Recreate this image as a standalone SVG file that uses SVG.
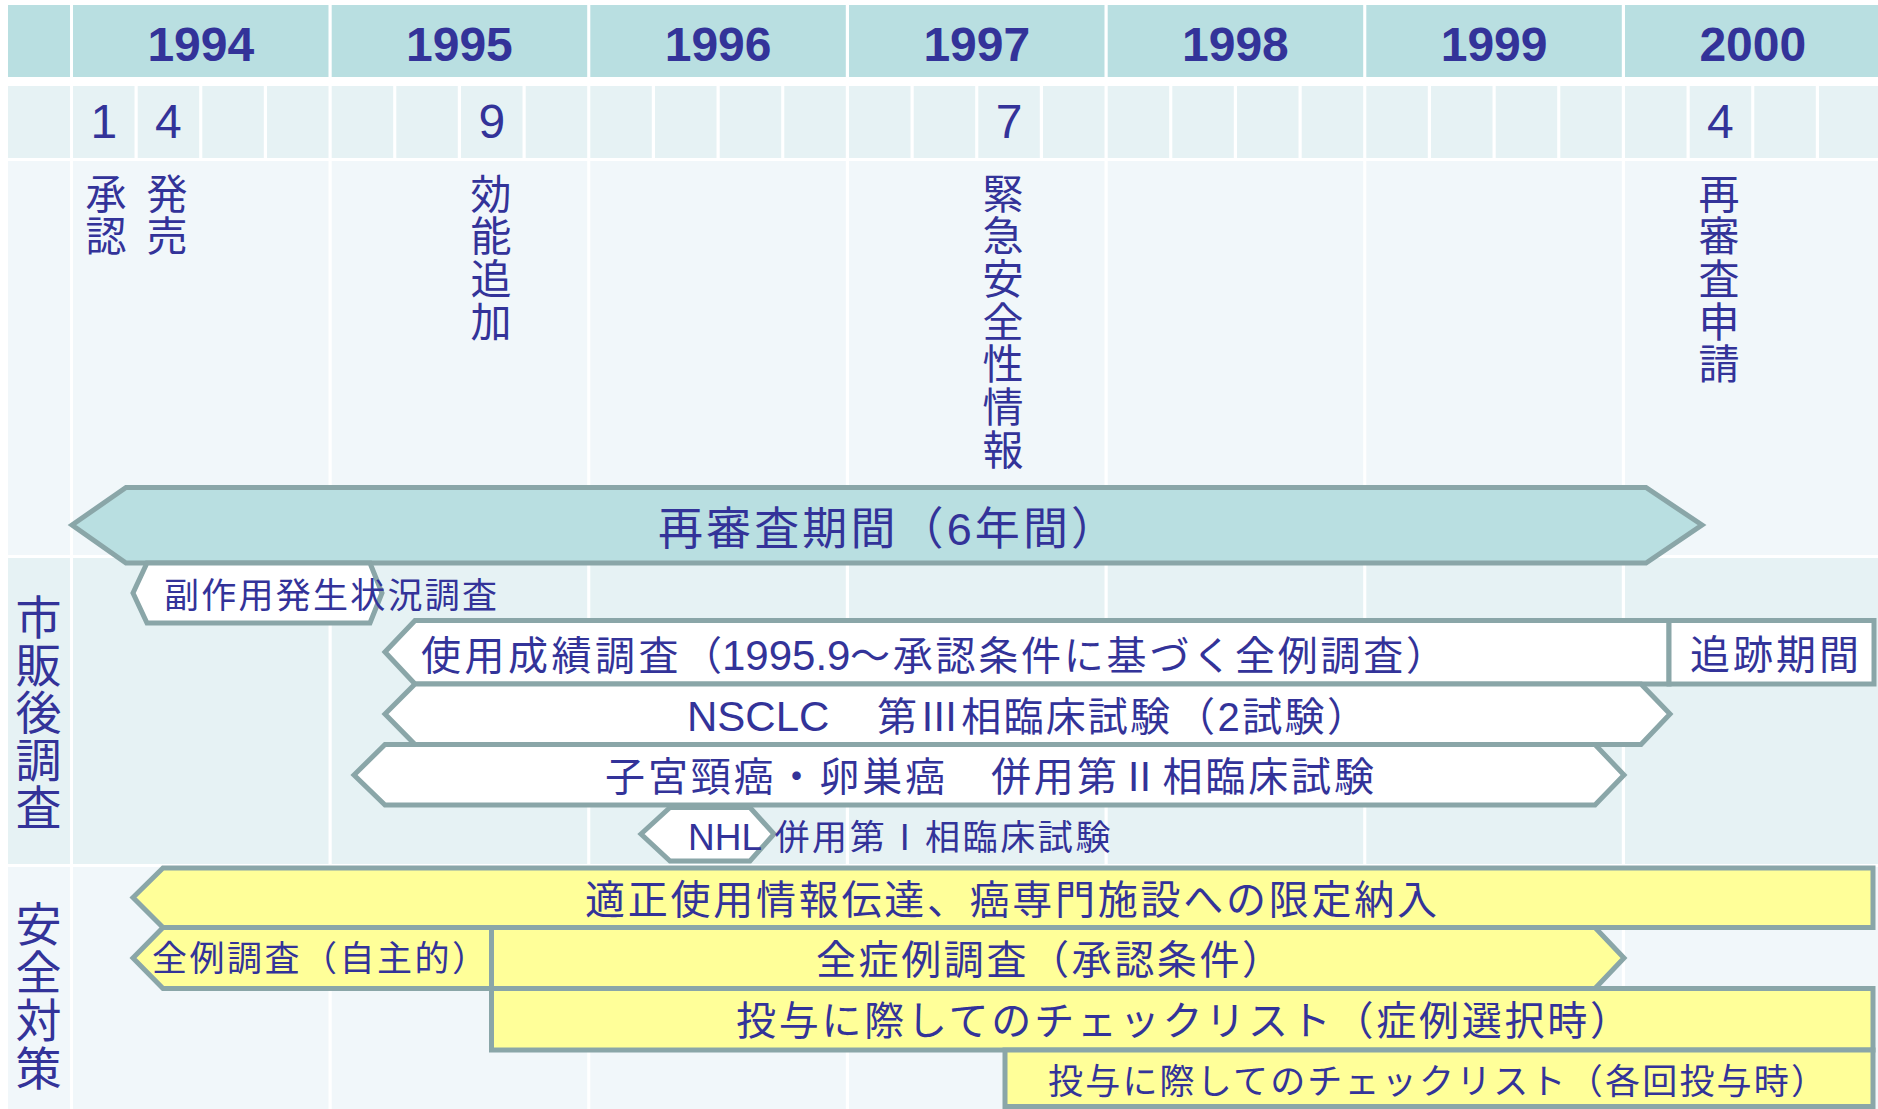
<svg xmlns="http://www.w3.org/2000/svg" width="1878" height="1109" viewBox="0 0 1878 1109">
<style>
text{font-family:"Liberation Sans","Noto Sans CJK JP",sans-serif;fill:#333399}
.yr{font-size:48px;font-weight:bold;text-anchor:middle}
.mo{font-size:48px;text-anchor:middle}
.ev{font-size:41px;text-anchor:middle}
.sec{font-size:46px;text-anchor:middle}
.lg{font-size:40px}
.sm{font-size:35px}
.la{font-size:42px}
.ls{font-size:37px}
.hd{fill:#B9DFE1}
.r2{fill:#E6F2F4}
.r3{fill:#F1F7FA}
.bar{stroke:#8AA6A8;stroke-width:5;stroke-linejoin:miter}
.w{fill:#FFFFFF}
.yl{fill:#FFFF99}
.tl{fill:#B9DFE1}
</style>
<rect x="0" y="0" width="1878" height="1109" fill="#FFFFFF"/>
<g id="grid">
<g id="row-year">
<rect class="hd" x="8" y="5" width="62" height="72"/>
<rect class="hd" x="73" y="5" width="255.5" height="72"/>
<rect class="hd" x="331.7" y="5" width="255.5" height="72"/>
<rect class="hd" x="590.3" y="5" width="255.5" height="72"/>
<rect class="hd" x="849" y="5" width="255.5" height="72"/>
<rect class="hd" x="1107.7" y="5" width="255.5" height="72"/>
<rect class="hd" x="1366.3" y="5" width="255.5" height="72"/>
<rect class="hd" x="1625" y="5" width="255.5" height="72"/>
</g>
<g id="row-month">
<rect class="r2" x="8" y="86" width="62" height="72"/>
<rect class="r2" x="73" y="86" width="61.5" height="72"/>
<rect class="r2" x="137.7" y="86" width="61.5" height="72"/>
<rect class="r2" x="202.3" y="86" width="61.5" height="72"/>
<rect class="r2" x="267" y="86" width="61.5" height="72"/>
<rect class="r2" x="331.7" y="86" width="61.5" height="72"/>
<rect class="r2" x="396.3" y="86" width="61.5" height="72"/>
<rect class="r2" x="461" y="86" width="61.5" height="72"/>
<rect class="r2" x="525.7" y="86" width="61.5" height="72"/>
<rect class="r2" x="590.3" y="86" width="61.5" height="72"/>
<rect class="r2" x="655" y="86" width="61.5" height="72"/>
<rect class="r2" x="719.7" y="86" width="61.5" height="72"/>
<rect class="r2" x="784.3" y="86" width="61.5" height="72"/>
<rect class="r2" x="849" y="86" width="61.5" height="72"/>
<rect class="r2" x="913.7" y="86" width="61.5" height="72"/>
<rect class="r2" x="978.3" y="86" width="61.5" height="72"/>
<rect class="r2" x="1043" y="86" width="61.5" height="72"/>
<rect class="r2" x="1107.7" y="86" width="61.5" height="72"/>
<rect class="r2" x="1172.3" y="86" width="61.5" height="72"/>
<rect class="r2" x="1237" y="86" width="61.5" height="72"/>
<rect class="r2" x="1301.7" y="86" width="61.5" height="72"/>
<rect class="r2" x="1366.3" y="86" width="61.5" height="72"/>
<rect class="r2" x="1431" y="86" width="61.5" height="72"/>
<rect class="r2" x="1495.7" y="86" width="61.5" height="72"/>
<rect class="r2" x="1560.3" y="86" width="61.5" height="72"/>
<rect class="r2" x="1625" y="86" width="61.5" height="72"/>
<rect class="r2" x="1689.7" y="86" width="61.5" height="72"/>
<rect class="r2" x="1754.3" y="86" width="61.5" height="72"/>
<rect class="r2" x="1819" y="86" width="61.5" height="72"/>
</g>
<g id="row-events">
<rect class="r3" x="8" y="161" width="62" height="394"/>
<rect class="r3" x="73" y="161" width="255.5" height="394"/>
<rect class="r3" x="331.7" y="161" width="255.5" height="394"/>
<rect class="r3" x="590.3" y="161" width="255.5" height="394"/>
<rect class="r3" x="849" y="161" width="255.5" height="394"/>
<rect class="r3" x="1107.7" y="161" width="255.5" height="394"/>
<rect class="r3" x="1366.3" y="161" width="255.5" height="394"/>
<rect class="r3" x="1625" y="161" width="255.5" height="394"/>
</g>
<g id="row-pms">
<rect class="r2" x="8" y="558" width="62" height="306"/>
<rect class="r2" x="73" y="558" width="255.5" height="306"/>
<rect class="r2" x="331.7" y="558" width="255.5" height="306"/>
<rect class="r2" x="590.3" y="558" width="255.5" height="306"/>
<rect class="r2" x="849" y="558" width="255.5" height="306"/>
<rect class="r2" x="1107.7" y="558" width="255.5" height="306"/>
<rect class="r2" x="1366.3" y="558" width="255.5" height="306"/>
<rect class="r2" x="1625" y="558" width="255.5" height="306"/>
</g>
<g id="row-safety">
<rect class="r3" x="8" y="867" width="62" height="242"/>
<rect class="r3" x="73" y="867" width="255.5" height="242"/>
<rect class="r3" x="331.7" y="867" width="255.5" height="242"/>
<rect class="r3" x="590.3" y="867" width="255.5" height="242"/>
<rect class="r3" x="849" y="867" width="255.5" height="242"/>
<rect class="r3" x="1107.7" y="867" width="255.5" height="242"/>
<rect class="r3" x="1366.3" y="867" width="255.5" height="242"/>
<rect class="r3" x="1625" y="867" width="255.5" height="242"/>
</g>
</g>
<g id="years">
<text class="yr" x="200.8" y="61">1994</text>
<text class="yr" x="459.4" y="61">1995</text>
<text class="yr" x="718.1" y="61">1996</text>
<text class="yr" x="976.8" y="61">1997</text>
<text class="yr" x="1235.4" y="61">1998</text>
<text class="yr" x="1494.1" y="61">1999</text>
<text class="yr" x="1752.8" y="61">2000</text>
</g>
<g id="months">
<text class="mo" x="103.8" y="138">1</text>
<text class="mo" x="168.4" y="138">4</text>
<text class="mo" x="491.8" y="138">9</text>
<text class="mo" x="1009" y="138">7</text>
<text class="mo" x="1720.4" y="138">4</text>
</g>
<g id="event-approval"><text class="ev"><tspan x="106" y="208.5">承</tspan><tspan x="106" dy="42.7">認</tspan></text></g>
<g id="event-launch"><text class="ev"><tspan x="167" y="208.5">発</tspan><tspan x="167" dy="42.7">売</tspan></text></g>
<g id="event-indication"><text class="ev"><tspan x="491" y="208.5">効</tspan><tspan x="491" dy="42.7">能</tspan><tspan x="491" dy="42.7">追</tspan><tspan x="491" dy="42.7">加</tspan></text></g>
<g id="event-emergency"><text class="ev"><tspan x="1003" y="208.5">緊</tspan><tspan x="1003" dy="42.7">急</tspan><tspan x="1003" dy="42.7">安</tspan><tspan x="1003" dy="42.7">全</tspan><tspan x="1003" dy="42.7">性</tspan><tspan x="1003" dy="42.7">情</tspan><tspan x="1003" dy="42.7">報</tspan></text></g>
<g id="event-reexam"><text class="ev"><tspan x="1719" y="208.5">再</tspan><tspan x="1719" dy="42.7">審</tspan><tspan x="1719" dy="42.7">査</tspan><tspan x="1719" dy="42.7">申</tspan><tspan x="1719" dy="42.7">請</tspan></text></g>
<g id="section-pms"><text class="sec"><tspan x="38.5" y="634">市</tspan><tspan x="38.5" dy="47.6">販</tspan><tspan x="38.5" dy="47.6">後</tspan><tspan x="38.5" dy="47.6">調</tspan><tspan x="38.5" dy="47.6">査</tspan></text></g>
<g id="section-safety"><text class="sec"><tspan x="38.5" y="941">安</tspan><tspan x="38.5" dy="48">全</tspan><tspan x="38.5" dy="48">対</tspan><tspan x="38.5" dy="48">策</tspan></text></g>
<g id="reexam-period">
<polygon class="bar tl" points="72,525 126,487.5 1646,487.5 1702,525 1646,563 126,563"/>
<text x="658" y="545" style="font-size:45px" textLength="458" lengthAdjust="spacing">再審査期間（6年間）</text>
</g>
<g id="side-effect-survey">
<polygon class="bar w" points="133,593 147,563 370,563 382,593 370,623 147,623"/>
<text class="sm" x="164" y="608" textLength="333" lengthAdjust="spacing">副作用発生状況調査</text>
</g>
<g id="use-results-survey">
<polygon class="bar w" points="385,652 415,620.5 1669,620.5 1669,684 415,684"/>
<text class="lg" y="670"><tspan x="421" textLength="301" lengthAdjust="spacing">使用成績調査（</tspan><tspan class="la" x="722">1995.9</tspan><tspan x="850" textLength="596" lengthAdjust="spacing">〜承認条件に基づく全例調査）</tspan></text>
</g>
<g id="follow-up">
<rect class="bar w" x="1669" y="620.5" width="205" height="63.5"/>
<text class="lg" x="1690" y="669" textLength="169" lengthAdjust="spacing">追跡期間</text>
</g>
<g id="nsclc-trial">
<polygon class="bar w" points="385,714 415,684 1641,684 1670,714 1641,744.5 415,744.5"/>
<text class="lg" y="731"><tspan class="la" x="687">NSCLC</tspan><tspan x="829">　</tspan><tspan x="877" textLength="293" lengthAdjust="spacing">第Ⅲ相臨床試験</tspan><tspan x="1175" textLength="192" lengthAdjust="spacing">（2試験）</tspan></text>
</g>
<g id="cervical-ovarian-trial">
<polygon class="bar w" points="354,775 385,744.5 1595,744.5 1624,775 1595,805 385,805"/>
<text class="lg" x="605" y="791" textLength="769" lengthAdjust="spacing">子宮頸癌・卵巣癌　併用第Ⅱ相臨床試験</text>
</g>
<g id="nhl-trial">
<polygon class="bar w" points="641,834 670,807.5 750,807.5 774,834 750,861 670,861"/>
<text class="sm" y="850"><tspan class="ls" x="688">NHL</tspan><tspan x="774.5" textLength="336" lengthAdjust="spacing">併用第Ⅰ相臨床試験</tspan></text>
</g>
<g id="proper-use">
<polygon class="bar yl" points="133,897.5 163,868 1873,868 1873,927.5 163,927.5"/>
<text class="lg" x="585" y="914" textLength="852" lengthAdjust="spacing">適正使用情報伝達、癌専門施設への限定納入</text>
</g>
<g id="all-case-voluntary">
<polygon class="bar yl" points="133,958 163,927.5 491.5,927.5 491.5,988.5 163,988.5"/>
<text class="sm" x="152" y="971" textLength="335" lengthAdjust="spacing">全例調査（自主的）</text>
</g>
<g id="all-case-condition">
<polygon class="bar yl" points="491.5,927.5 1595,927.5 1624,958 1595,988.5 491.5,988.5"/>
<text class="lg" x="816" y="974" textLength="466" lengthAdjust="spacing">全症例調査（承認条件）</text>
</g>
<g id="checklist-selection">
<rect class="bar yl" x="491.5" y="988.5" width="1381.5" height="61.5"/>
<text class="lg" x="736" y="1035" textLength="894" lengthAdjust="spacing">投与に際してのチェックリスト（症例選択時）</text>
</g>
<g id="checklist-each">
<rect class="bar yl" x="1005" y="1050" width="868" height="56.5"/>
<text class="sm" x="1048" y="1094" textLength="778" lengthAdjust="spacing">投与に際してのチェックリスト（各回投与時）</text>
</g>
<g id="connectors"/>
</svg>
